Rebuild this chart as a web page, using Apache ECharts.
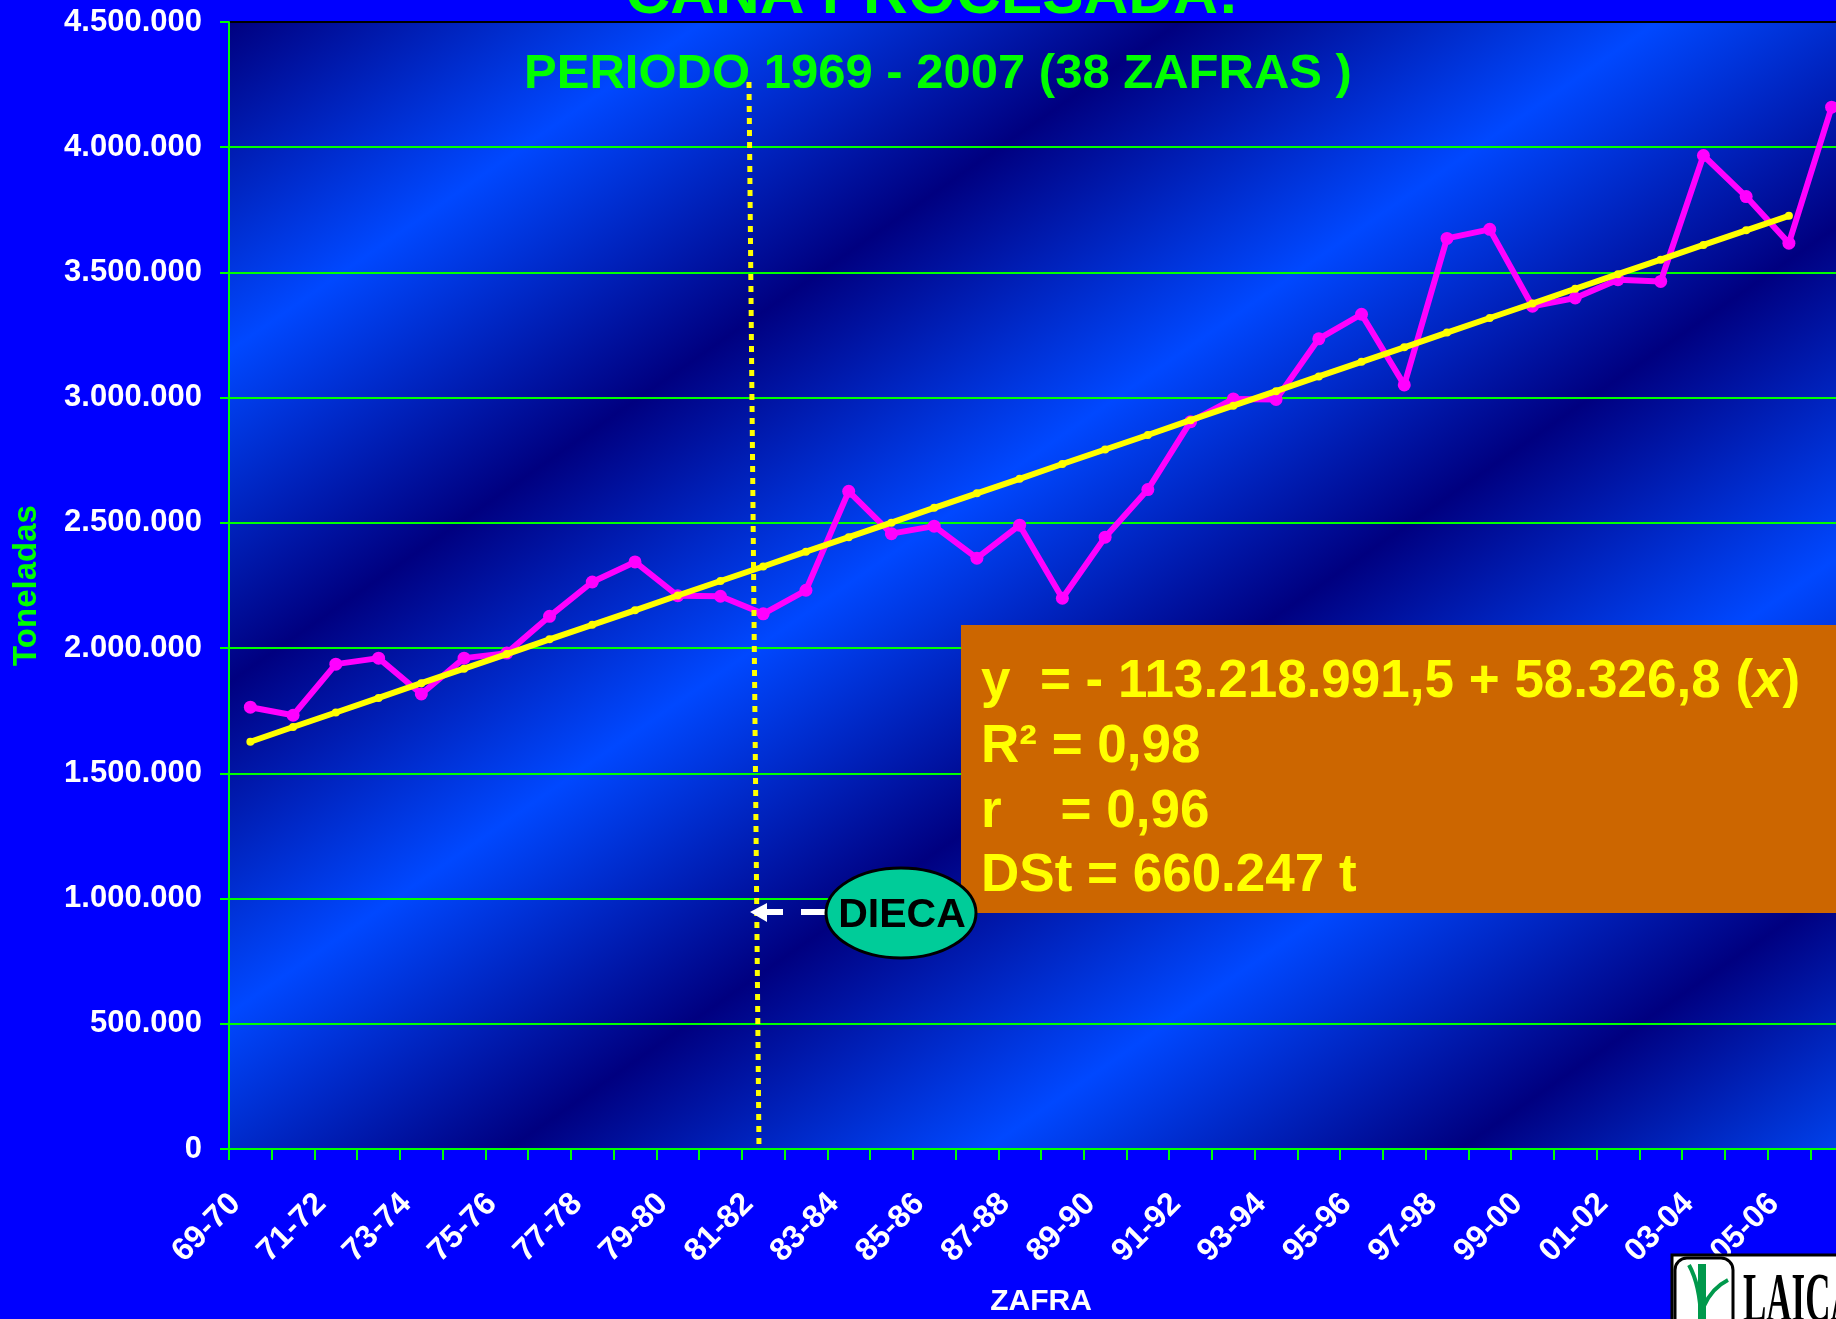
<!DOCTYPE html>
<html>
<head>
<meta charset="utf-8">
<title>Caña procesada 1969 - 2007</title>
<script src="https://cdn.jsdelivr.net/npm/echarts@6.0.0/dist/echarts.min.js"></script>
<style>
  html, body { margin: 0; padding: 0; background: #0000ff; }
  #chart { width: 1836px; height: 1319px; }
</style>
</head>
<body>
<div id="chart"></div>
<script>
// zafras 69-70 ... 06-07 (38 zafras)
var zafras = ['69-70', '70-71', '71-72', '72-73', '73-74', '74-75', '75-76', '76-77', '77-78', '78-79',
    '79-80', '80-81', '81-82', '82-83', '83-84', '84-85', '85-86', '86-87', '87-88', '88-89',
    '89-90', '90-91', '91-92', '92-93', '93-94', '94-95', '95-96', '96-97', '97-98', '98-99',
    '99-00', '00-01', '01-02', '02-03', '03-04', '04-05', '05-06', '06-07'];

// caña procesada (t)
var canaProcesada = [1764000, 1732000, 1936000, 1960000, 1817000, 1960000, 1980000, 2127000, 2264000, 2344000,
    2209000, 2207000, 2137000, 2231000, 2626000, 2457000, 2487000, 2359000, 2491000, 2199000,
    2443000, 2633000, 2904000, 2995000, 2993000, 3235000, 3333000, 3051000, 3636000, 3672000,
    3365000, 3398000, 3471000, 3464000, 3967000, 3803000, 3617000, 4160000];

// linea de tendencia (t), termina en 05-06
var tendencia = [1626000, 1685000, 1743000, 1801000, 1860000, 1918000, 1976000, 2035000, 2093000, 2151000,
    2210000, 2268000, 2326000, 2385000, 2443000, 2501000, 2560000, 2618000, 2676000, 2735000,
    2793000, 2851000, 2910000, 2968000, 3026000, 3085000, 3143000, 3201000, 3260000, 3318000,
    3376000, 3435000, 3493000, 3551000, 3610000, 3668000, 3726000, null];

// eje Y
var yMin = 0, yMax = 4500000, yStep = 500000;

// texto del recuadro
var ecuacion = ['y  = - 113.218.991,5 + 58.326,8 (', 'x', ')'];
var r2Texto = 'R² = 0,98';
var rTexto = 'r    = 0,96';
var dstTexto = 'DSt = 660.247 t';

var FONT = '"Liberation Sans", Arial, sans-serif';
var green = '#00FF00';

function miles(v) {
    return String(v).replace(/\B(?=(\d{3})+(?!\d))/g, '.');
}

var chart = echarts.init(document.getElementById('chart'));

// fondo en bandas diagonales del area de trazado
var fondo = new echarts.graphic.LinearGradient(229, 22, 1285, 1543, [
    {offset: 0, color: '#000080'},
    {offset: 0.146, color: '#0048FF'},
    {offset: 0.293, color: '#000080'},
    {offset: 0.44, color: '#0048FF'},
    {offset: 0.586, color: '#000080'},
    {offset: 0.733, color: '#0048FF'},
    {offset: 0.879, color: '#000080'},
    {offset: 1, color: '#0044F0'}
], true);

var option = {
    animation: false,
    backgroundColor: '#0000FF',
    grid: {
        left: 229,
        top: 22,
        right: -17,
        bottom: 170,
        show: true,
        backgroundColor: fondo,
        borderColor: '#000',
        borderWidth: 2,
        outerBoundsMode: 'none'
    },
    xAxis: {
        type: 'category',
        data: zafras,
        boundaryGap: true,
        name: 'ZAFRA',
        nameLocation: 'middle',
        nameGap: 138,
        nameMoveOverlap: false,
        nameTextStyle: {color: '#fff', fontSize: 30, fontWeight: 'bold', fontFamily: FONT},
        axisLine: {lineStyle: {color: green, width: 2}},
        axisTick: {show: true, interval: 0, length: 11, lineStyle: {color: green, width: 2}},
        axisLabel: {
            interval: 1,
            rotate: 45,
            margin: 35,
            padding: [0, 21, 0, 0],
            color: '#fff',
            fontSize: 32,
            fontWeight: 'bold',
            fontFamily: FONT
        },
        splitLine: {show: false}
    },
    yAxis: {
        type: 'value',
        min: yMin,
        max: yMax,
        interval: yStep,
        name: 'Toneladas',
        nameLocation: 'middle',
        nameGap: 186,
        nameMoveOverlap: false,
        nameTextStyle: {color: green, fontSize: 33, fontWeight: 'bold', fontFamily: FONT},
        axisLine: {show: true, lineStyle: {color: green, width: 2}},
        axisTick: {show: true, length: 9, lineStyle: {color: green, width: 2}},
        axisLabel: {
            margin: 27,
            color: '#fff',
            fontSize: 31,
            fontWeight: 'bold',
            fontFamily: FONT,
            formatter: miles
        },
        splitLine: {showMaxLine: false, lineStyle: {color: green, width: 2}}
    },
    series: [
        {
            name: 'Caña procesada',
            type: 'line',
            data: canaProcesada,
            symbol: 'circle',
            symbolSize: 13,
            itemStyle: {color: '#FF00FF'},
            lineStyle: {color: '#FF00FF', width: 6},
            z: 3
        },
        {
            name: 'Tendencia',
            type: 'line',
            data: tendencia,
            symbol: 'circle',
            symbolSize: 8,
            itemStyle: {color: '#FFFF00'},
            lineStyle: {color: '#FFFF00', width: 6},
            z: 4
        }
    ],
    graphic: [
        // titulo (cortado arriba)
        {
            type: 'text', x: 932, y: -4, z: 100,
            style: {text: 'CAÑA PROCESADA:', fill: green, font: 'bold 62px ' + FONT, align: 'center', verticalAlign: 'middle'}
        },
        {
            type: 'text', x: 938, y: 74, z: 100,
            style: {text: 'PERIODO 1969 - 2007 (38 ZAFRAS )', fill: green, font: 'bold 49px ' + FONT, align: 'center', verticalAlign: 'middle'}
        },
        // recuadro con la ecuacion
        {
            type: 'rect', z: 100,
            shape: {x: 961, y: 625, width: 900, height: 288},
            style: {fill: '#CC6600'}
        },
        {
            type: 'text', x: 981, y: 682, z: 101,
            style: {
                text: '{n|' + ecuacion[0] + '}{i|' + ecuacion[1] + '}{n|' + ecuacion[2] + '}',
                verticalAlign: 'middle',
                rich: {
                    n: {fill: '#FFFF00', font: 'bold 53px ' + FONT},
                    i: {fill: '#FFFF00', font: 'italic bold 53px ' + FONT}
                }
            }
        },
        {
            type: 'text', x: 981, y: 747, z: 101,
            style: {text: r2Texto, fill: '#FFFF00', font: 'bold 53px ' + FONT, verticalAlign: 'middle'}
        },
        {
            type: 'text', x: 981, y: 812, z: 101,
            style: {text: rTexto, fill: '#FFFF00', font: 'bold 53px ' + FONT, verticalAlign: 'middle'}
        },
        {
            type: 'text', x: 981, y: 876, z: 101,
            style: {text: dstTexto, fill: '#FFFF00', font: 'bold 53px ' + FONT, verticalAlign: 'middle'}
        },
        // linea punteada amarilla
        {
            type: 'line', z: 102,
            shape: {x1: 749, y1: 82, x2: 759, y2: 1149},
            style: {stroke: '#FFFF00', lineWidth: 5, lineDash: [6, 6]}
        },
        // flecha DIECA
        {
            type: 'polygon', z: 103,
            shape: {points: [[750, 912], [767, 903], [767, 922]]},
            style: {fill: '#fff'}
        },
        {
            type: 'line', z: 103,
            shape: {x1: 766, y1: 912, x2: 783, y2: 912},
            style: {stroke: '#fff', lineWidth: 6}
        },
        {
            type: 'line', z: 103,
            shape: {x1: 801, y1: 912, x2: 828, y2: 912},
            style: {stroke: '#fff', lineWidth: 6}
        },
        {
            type: 'ellipse', z: 104,
            shape: {cx: 901, cy: 913, rx: 75, ry: 45},
            style: {fill: '#00CC99', stroke: '#000', lineWidth: 3}
        },
        {
            type: 'text', x: 902, y: 916, z: 105,
            style: {text: 'DIECA', fill: '#000', font: 'bold 41px ' + FONT, align: 'center', verticalAlign: 'middle'}
        },
        // logo (cortado)
        {
            type: 'rect', z: 110,
            shape: {x: 1672, y: 1255, width: 200, height: 100},
            style: {fill: '#fff', stroke: '#000', lineWidth: 3}
        },
        {
            type: 'rect', z: 111,
            shape: {x: 1675, y: 1258, width: 58, height: 100, r: 12},
            style: {fill: 'none', stroke: '#000', lineWidth: 3}
        },
        {
            type: 'rect', z: 112,
            shape: {x: 1698, y: 1264, width: 8, height: 60},
            style: {fill: '#00994C'}
        },
        {
            type: 'bezierCurve', z: 112,
            shape: {x1: 1689, y1: 1265, cpx1: 1700, cpy1: 1285, x2: 1701, y2: 1319},
            style: {stroke: '#00994C', lineWidth: 4, fill: 'none'}
        },
        {
            type: 'bezierCurve', z: 112,
            shape: {x1: 1728, y1: 1280, cpx1: 1712, cpy1: 1288, x2: 1704, y2: 1306},
            style: {stroke: '#00994C', lineWidth: 4, fill: 'none'}
        },
        {
            type: 'text', x: 1743, y: 1268, z: 112, scaleX: 0.5,
            style: {text: 'LAICA', fill: '#000', font: 'bold 70px "Liberation Serif", serif', verticalAlign: 'top'}
        }
    ]
};

chart.setOption(option);
</script>
</body>
</html>
